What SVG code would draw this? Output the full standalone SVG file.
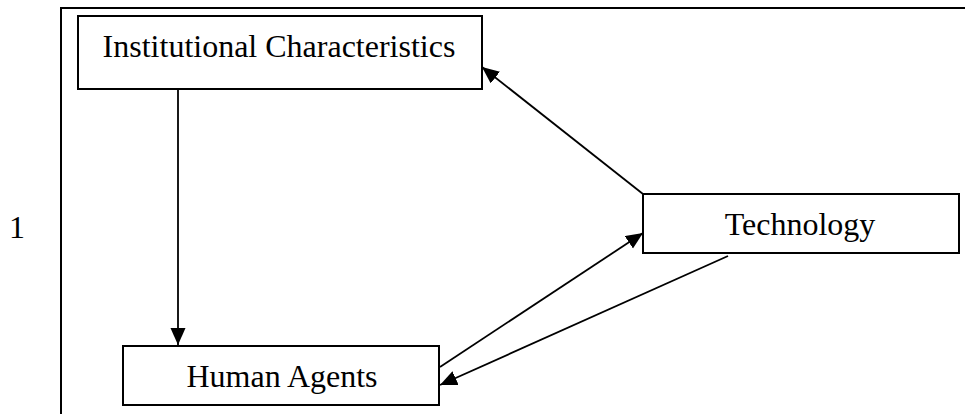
<svg xmlns="http://www.w3.org/2000/svg" width="965" height="414" viewBox="0 0 965 414">
  <style>
    .box { fill: #fff; stroke: #000; stroke-width: 2; }
    .frame { fill: none; stroke: #000; stroke-width: 2; }
    .label { font-family: "Liberation Serif", "Times New Roman", serif; font-size: 32px; fill: #000; text-anchor: middle; }
    .edge { fill: none; stroke: #000; stroke-width: 1.8; marker-end: url(#arrow); }
  </style>
  <defs>
    <marker id="arrow" markerUnits="userSpaceOnUse" markerWidth="18" markerHeight="16" refX="17" refY="7.5" orient="auto">
      <path d="M0,0 L17,7.5 L0,15 Z" fill="#000"/>
    </marker>
  </defs>

  <!-- outer frame, open at right and bottom -->
  <path class="frame" d="M61,414 L61,8 L965,8"/>

  <!-- margin number -->
  <text x="17" y="238" class="label">1</text>

  <g id="connectors">
    <line class="edge" x1="178" y1="89" x2="178" y2="345"/>
    <line class="edge" x1="643" y1="194" x2="482" y2="67"/>
    <line class="edge" x1="440" y1="367" x2="643" y2="233"/>
    <line class="edge" x1="728" y1="256" x2="440" y2="385"/>
  </g>

  <g id="institutional">
    <rect class="box" x="78" y="16" width="404" height="73"/>
    <text class="label" x="279" y="57">Institutional Characteristics</text>
  </g>

  <g id="technology">
    <rect class="box" x="643" y="194" width="316" height="59"/>
    <text class="label" x="800" y="235">Technology</text>
  </g>

  <g id="human-agents">
    <rect class="box" x="123" y="346" width="316" height="59"/>
    <text class="label" x="282" y="387">Human Agents</text>
  </g>
</svg>
